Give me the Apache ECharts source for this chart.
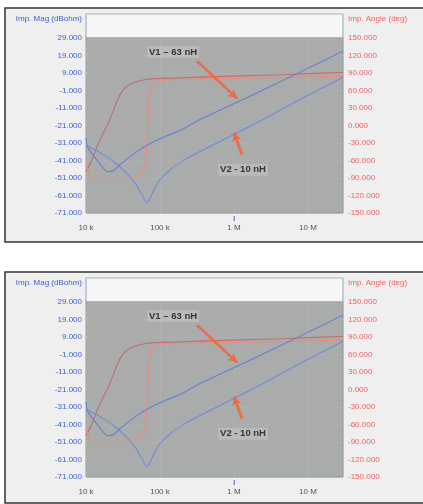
<!DOCTYPE html>
<html><head><meta charset="utf-8">
<script src="https://cdn.jsdelivr.net/npm/echarts@6/dist/echarts.min.js"></script>
<style>html,body{margin:0;padding:0;background:#fff}#c{width:423px;height:504px}</style>
</head><body><div id="c"></div>
<script>
// ---- data ----
const freqTickLabels = ['10 k', '100 k', '1 M', '10 M'];
const MAG_MIN = -71, MAG_MAX = 29, MAG_STEP = 10;
const PH_MIN = -150, PH_MAX = 150, PH_STEP = 30;
const F_MIN = 1e4, F_MAX = 2.972e7;

// impedance magnitude, curve A (V1 - 63 nH)
const freqA = [10000, 13240, 16990, 19820, 23170, 28780, 39340, 53700, 73280, 116900, 186400, 347300, 1644000, 7797000, 29720000];
const magA  = [-32.5, -39.4, -45.1, -47.4, -46.9, -43.4, -38.8, -34.8, -31.3, -27.3, -23.9, -17.6, -4.3, 9.5, 21.5];
// impedance magnitude, curve B (V2 - 10 nH)
const freqB = [10000, 10640, 13240, 18070, 24660, 33630, 45920, 57150, 66710, 73280, 85510, 100000, 136500, 217600, 347300, 883000, 2466000, 7797000, 29720000];
const magB  = [-27.9, -33.1, -34.8, -38.2, -42.3, -47.4, -53.8, -60.7, -65.3, -62.4, -56.6, -52.0, -46.3, -40.5, -35.9, -27.3, -17.6, -6.1, 6.6];
// impedance angle, curve 1
const freqP1 = [10000, 12050, 14520, 17500, 21090, 25420, 30630, 39340, 66710, 347300, 4188000, 29720000];
const phaseP1 = [-79.3, -58.6, -32.7, -10.3, 10.4, 37.9, 58.6, 70.7, 79.3, 82.8, 87.0, 91.0];
// impedance angle, curve 2
const freqP2 = [10000, 11320, 13240, 21090, 33630, 45920, 55330, 60780, 64700, 66710, 68840, 71010, 75550, 85510, 116900, 186400, 1644000, 29720000];
const phaseP2 = [-67.2, -86.2, -89.6, -89.6, -89.6, -87.9, -82.7, -72.4, -55.2, -24.1, 10.4, 44.9, 65.5, 74.1, 77.6, 79.3, 81.0, 84.5];

// annotations (data coordinates: frequency, dB)
const arrowV1 = [[316200, 15.8], [1099000, -5.5]];
const arrowV2 = [[1282000, -37.7], [1000000, -25.0]];
const labelV1 = {text: 'V1 \u2013 63 nH', coord: [150000, 21.0]};
const labelV2 = {text: 'V2 - 10 nH', coord: [1324000, -46.3]};

// ---- build ----
const PANEL_OFFSETS = [0, 264];
const zip = (xs, ys, off) => xs.map((x, i) => [x, ys[i] - off]);
const font = 'Liberation Sans, Arial, sans-serif';

function freqLabel(v) {
  const e = Math.round(Math.log10(v));
  if (Math.abs(Math.log10(v) - e) > 1e-6) return '';
  const idx = e - 4;
  return freqTickLabels[idx] || '';
}

const grids = [], xAxes = [], yAxes = [], series = [], graphics = [];
PANEL_OFFSETS.forEach((off, i) => {
  grids.push({left: 86, top: 38 + off, width: 257, height: 175, show: true,
    backgroundColor: '#aaabab', borderColor: '#8c9aa2', borderWidth: 1});
  xAxes.push({type: 'log', gridIndex: i, logBase: 10, min: F_MIN, max: F_MAX,
    axisLine: {show: false}, axisTick: {show: false},
    axisLabel: {fontSize: 8, color: '#555', margin: 11, fontFamily: font, formatter: freqLabel, showMaxLabel: false},
    splitLine: {show: true, lineStyle: {color: '#b6b6b6', type: 'dotted', width: 1}}});
  yAxes.push({type: 'value', gridIndex: i, position: 'left', min: 0, max: MAG_MAX - MAG_MIN, interval: MAG_STEP,
    axisLine: {show: false}, axisTick: {show: false},
    axisLabel: {fontSize: 8, color: '#3a5fcd', margin: 4, fontFamily: font, formatter: v => (v + MAG_MIN).toFixed(3)},
    splitLine: {show: true, lineStyle: {color: '#b3b3b3', type: 'dotted', width: 1}}});
  yAxes.push({type: 'value', gridIndex: i, position: 'right', min: PH_MIN, max: PH_MAX, interval: PH_STEP,
    axisLine: {show: false}, axisTick: {show: false},
    axisLabel: {fontSize: 8, color: '#f06060', margin: 5, fontFamily: font, formatter: v => v.toFixed(3)},
    splitLine: {show: false}});
  const yl = i * 2, yr = i * 2 + 1;
  const common = {type: 'line', xAxisIndex: i, showSymbol: false, smooth: 0.25, animation: false};
  series.push(Object.assign({}, common, {yAxisIndex: yr, data: zip(freqP1, phaseP1, 0),
    lineStyle: {color: '#b97474', width: 1.2}}));
  series.push(Object.assign({}, common, {yAxisIndex: yr, data: zip(freqP2, phaseP2, 0),
    lineStyle: {color: '#ef8a7c', width: 1.2}}));
  series.push(Object.assign({}, common, {yAxisIndex: yl, data: zip(freqA, magA, MAG_MIN),
    lineStyle: {color: '#5f82d4', width: 1.1}}));
  series.push(Object.assign({}, common, {yAxisIndex: yl, data: zip(freqB, magB, MAG_MIN),
    lineStyle: {color: '#6b8ddc', width: 1.1},
    markLine: {silent: true, animation: false, symbol: ['none', 'arrow'], symbolSize: [7, 9],
      lineStyle: {color: '#ec6a45', width: 2.6, type: 'solid'}, label: {show: false},
      data: [arrowV1, arrowV2].map(a => [{coord: [a[0][0], a[0][1] - MAG_MIN]}, {coord: [a[1][0], a[1][1] - MAG_MIN]}])},
    markPoint: {silent: true, animation: false, symbol: 'rect', symbolSize: 1, itemStyle: {color: 'rgba(0,0,0,0)'},
      label: {show: true, position: 'inside', fontSize: 9.5, fontWeight: 'bold', color: '#363636', fontFamily: font,
        backgroundColor: 'rgba(205,205,205,0.45)', padding: [1, 2], formatter: p => p.name},
      data: [labelV1, labelV2].map(l => ({name: l.text, coord: [l.coord[0], l.coord[1] - MAG_MIN]}))}}));

  // panel frame & header decorations
  graphics.push({type: 'rect', z: -10, shape: {x: 5, y: 8 + off, width: 430, height: i === 0 ? 234 : 231},
    style: {fill: '#efefef', stroke: '#333', lineWidth: 1.5}});
  graphics.push({type: 'rect', z: -9, shape: {x: 86, y: 14 + off, width: 257, height: 24},
    style: {fill: '#f6f6f6', stroke: '#a4b3c0', lineWidth: 1.2}});
  graphics.push({type: 'text', z: 10, x: 82, y: 19 + off,
    style: {text: 'Imp. Mag (dBohm)', fill: '#3a5fcd', font: '8px ' + font, align: 'right', verticalAlign: 'middle'}});
  graphics.push({type: 'text', z: 10, x: 348, y: 19 + off,
    style: {text: 'Imp. Angle (deg)', fill: '#f06060', font: '8px ' + font, align: 'left', verticalAlign: 'middle'}});
  graphics.push({type: 'rect', z: 10, shape: {x: 233.5, y: 216 + off, width: 1.5, height: 5},
    style: {fill: '#9a7ee0'}});
});

const chart = echarts.init(document.getElementById('c'), null, {renderer: 'canvas'});
chart.setOption({
  backgroundColor: '#ffffff',
  animation: false,
  textStyle: {fontFamily: font},
  graphic: {elements: graphics},
  grid: grids, xAxis: xAxes, yAxis: yAxes, series: series
});
</script></body></html>
